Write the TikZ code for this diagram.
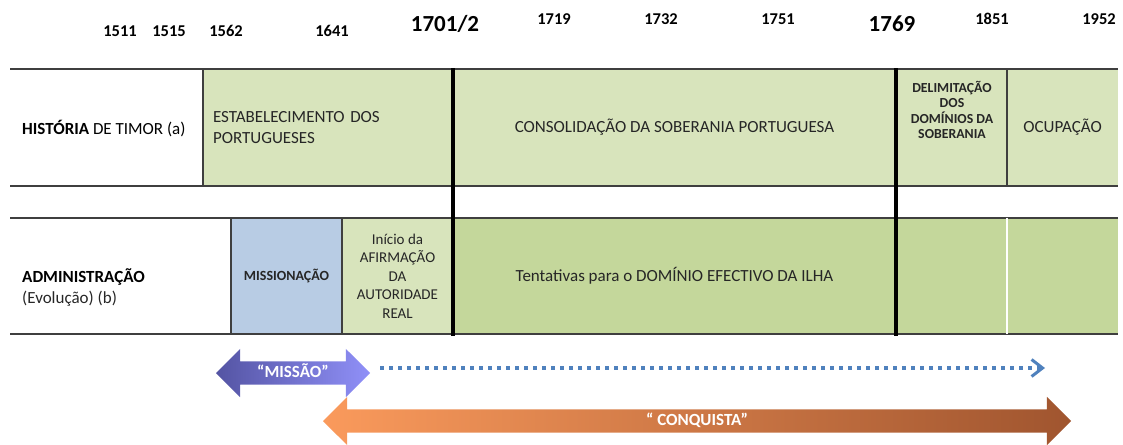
\documentclass[tikz,border=0pt]{standalone}
\usepackage{fontspec}
\setmainfont{Carlito}
\usetikzlibrary{shapes.arrows,arrows.meta}
\definecolor{histgreen}{HTML}{D8E4BC}
\definecolor{admgreen}{HTML}{C4D79B}
\definecolor{missblue}{HTML}{B8CCE4}
\definecolor{rulegray}{HTML}{3F3F3F}
\definecolor{txtgray}{HTML}{262626}
\definecolor{dotblue}{HTML}{4F81BD}
\definecolor{missdark}{HTML}{5454A3}
\definecolor{misslight}{HTML}{9090F8}
\definecolor{conqlight}{HTML}{FA9A5C}
\definecolor{conqdark}{HTML}{A0552F}
\begin{document}
\begin{tikzpicture}[x=1pt, y=-1pt,
  year/.style={font=\bfseries\fontsize{16.5}{19}\selectfont},
  bigyear/.style={font=\bfseries\fontsize{23}{27}\selectfont},
  cell/.style={rectangle, inner sep=0pt, text=txtgray, align=center, font=\fontsize{17}{21}\selectfont},
  rowlabel/.style={anchor=west, inner sep=0pt, align=left, font=\fontsize{17}{21}\selectfont},
  thinrule/.style={rulegray, line width=1.5pt},
  thickrule/.style={black, line width=4pt},
  dotline/.style={dotblue, line width=3.5pt, dash pattern=on 3.5pt off 5.5pt, -{Straight Barb[length=11pt, width=17pt, line width=3pt]}},
  bigarrow/.style={double arrow, double arrow head extend=12.5pt, inner xsep=0pt, inner ysep=4pt, text height=12pt, text depth=3pt, text=white, font=\bfseries\fontsize{17}{20}\selectfont}]
\useasboundingbox (0,0) rectangle (1123,444);
\node[year] (y1511) at (120,31) {1511};
\node[year] (y1515) at (169,31) {1515};
\node[year] (y1562) at (226,31) {1562};
\node[year] (y1641) at (332,31) {1641};
\node[bigyear] (y1701) at (445,24) {1701/2};
\node[year] (y1719) at (554,19) {1719};
\node[year] (y1732) at (661,19) {1732};
\node[year] (y1751) at (778,19) {1751};
\node[bigyear] (y1769) at (892,24) {1769};
\node[year] (y1851) at (992,19) {1851};
\node[year] (y1952) at (1099,19) {1952};
\node[rowlabel] (histlabel) at (22,129) {\textbf{HISTÓRIA} DE TIMOR (a)};
\node[cell, fill=histgreen, minimum width=250pt, minimum height=117pt, text width=230pt, align=left] (estab) at (328,127.5) {ESTABELECIMENTO DOS\\PORTUGUESES};
\node[cell, fill=histgreen, minimum width=443pt, minimum height=117pt] (consol) at (674.5,127.5) {CONSOLIDAÇÃO DA SOBERANIA PORTUGUESA};
\node[cell, fill=histgreen, minimum width=111pt, minimum height=117pt] (delim) at (951.5,127.5) {};
\node[cell, font=\bfseries\fontsize{13.8}{15.5}\selectfont] (delimtxt) at (952,110) {DELIMITAÇÃO\\DOS\\DOMÍNIOS DA\\SOBERANIA};
\node[cell, fill=histgreen, minimum width=111pt, minimum height=117pt] (ocup) at (1062.5,127.5) {OCUPAÇÃO};
\node[rowlabel] (admlabel) at (22,288) {\textbf{ADMINISTRAÇÃO}\\{\color{txtgray}(Evolução) (b)}};
\node[cell, fill=missblue, minimum width=111pt, minimum height=116pt, font=\bfseries\fontsize{14}{16}\selectfont] (miss) at (286.5,276) {MISSIONAÇÃO};
\node[cell, fill=histgreen, minimum width=111pt, minimum height=116pt, font=\fontsize{15}{18.5}\selectfont] (inicio) at (397.5,276) {Início da\\AFIRMAÇÃO\\DA\\AUTORIDADE\\REAL};
\node[cell, fill=admgreen, minimum width=443pt, minimum height=116pt] (tent) at (674.5,276) {Tentativas para o DOMÍNIO EFECTIVO DA ILHA};
\node[cell, fill=admgreen, minimum width=111pt, minimum height=116pt] (adma) at (951.5,276) {};
\node[cell, fill=admgreen, minimum width=111pt, minimum height=116pt] (admb) at (1062.5,276) {};
\draw[thinrule] (10,69) -- (1118,69);
\draw[thinrule] (10,186) -- (1118,186);
\draw[thinrule] (10,218) -- (1118,218);
\draw[thinrule] (10,334) -- (1118,334);
\draw[thinrule] (estab.north west) -- (estab.south west);
\draw[thinrule] (ocup.north west) -- (ocup.south west);
\draw[thinrule] (miss.north west) -- (miss.south west);
\draw[thinrule] (inicio.north west) -- (inicio.south west);
\draw[white, line width=1.5pt] (admb.north west) -- (admb.south west);
\draw[thickrule] (453,68) -- (453,336);
\draw[thickrule] (896,68) -- (896,336);
\node[bigarrow, minimum height=748pt, left color=conqlight, right color=conqdark] (conquista) at (697,421) {“ CONQUISTA”};
\node[bigarrow, minimum height=154pt, left color=missdark, right color=misslight] (missao) at (293,373) {“MISSÃO”};
\coordinate (dotstart) at (380,368);
\coordinate (dotend) at (1045,368);
\draw[dotline] (dotstart) -- (dotend);
\end{tikzpicture}
\end{document}
